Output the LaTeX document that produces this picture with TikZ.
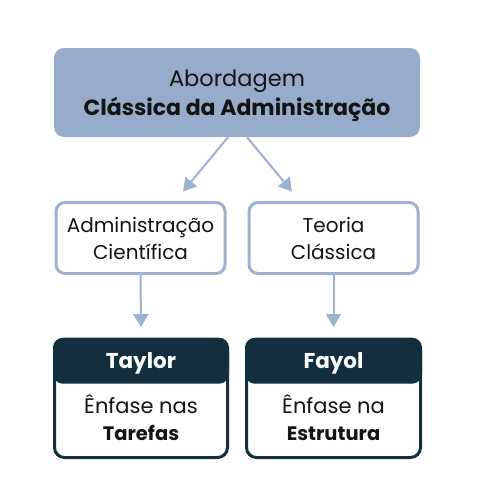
\documentclass[tikz,border=0pt]{standalone}
\usepackage{fontspec}
\setmainfont{Poppins}
\usetikzlibrary{arrows.meta,positioning,calc}

\definecolor{topblue}{HTML}{97ACCB}
\definecolor{lineblue}{HTML}{9DB1D0}
\definecolor{navy}{HTML}{132E3E}
\definecolor{ink}{HTML}{141414}

\begin{document}
\begin{tikzpicture}[
    x=1pt, y=-1pt,
    text=ink,
    root/.style={fill=topblue, rounded corners=10pt,
      minimum width=366pt, minimum height=89pt},
    roottext/.style={align=center, font=\fontsize{22.5}{28.5}\selectfont},
    branch/.style={draw=lineblue, line width=3pt, fill=white, rounded corners=9pt,
      align=center, minimum width=169pt, minimum height=71pt,
      font=\fontsize{20}{27}\selectfont},
    card/.style={draw=navy, line width=3pt, fill=white, rounded corners=10pt,
      minimum height=117pt},
    head/.style={fill=navy, rounded corners=10pt, text=white, anchor=north,
      minimum height=46pt, text depth=0pt, font=\fontsize{21.5}{24}\selectfont\bfseries},
    cardtext/.style={align=center, font=\fontsize{21}{27}\selectfont},
    arrow/.style={-{Triangle[width=15pt,length=13pt]}, line width=2pt, draw=lineblue}
  ]
    \useasboundingbox (0,0) rectangle (477,504);
    \node[root] (abord) at (237,92.5) {};
    \node[roottext] (abordtxt) at ([yshift=-3pt]abord.center) {Abordagem\\{\fontsize{22}{28.5}\selectfont\bfseries Clássica da Administração}};
    \node[branch] (adm) at (140.5,238) {Administração\\Científica};
    \node[branch] (teo) at (333.5,238) {Teoria\\Clássica};
    \node[card, minimum width=173pt] (taylor) at (141,399) {};
    \node[card, minimum width=174pt] (fayol) at (333.5,399) {};
    \node[head, minimum width=176pt] (taylorhead) at ([yshift=1.5pt]taylor.north) {Taylor};
    \node[head, minimum width=177pt] (fayolhead) at ([yshift=1.5pt]fayol.north) {Fayol};
    \node[cardtext] (taylortxt) at ([yshift=3.5pt]$(taylorhead.south)!0.5!(taylor.south)$) {Ênfase nas\\{\fontsize{19.5}{27}\selectfont\bfseries Tarefas}};
    \node[cardtext] (fayoltxt) at ([yshift=3.5pt]$(fayolhead.south)!0.5!(fayol.south)$) {Ênfase na\\{\fontsize{19.5}{27}\selectfont\bfseries Estrutura}};
    \draw[arrow] ([xshift=-9pt]abord.south) -- ([xshift=42.5pt,yshift=9.5pt]adm.north);
    \draw[arrow] ([xshift=10pt]abord.south) -- ([xshift=-41.5pt,yshift=9.5pt]teo.north);
    \draw[arrow] (adm.south) -- ([yshift=12pt]taylor.north);
    \draw[arrow] (teo.south) -- ([yshift=12pt]fayol.north);
  \end{tikzpicture}
\end{document}
